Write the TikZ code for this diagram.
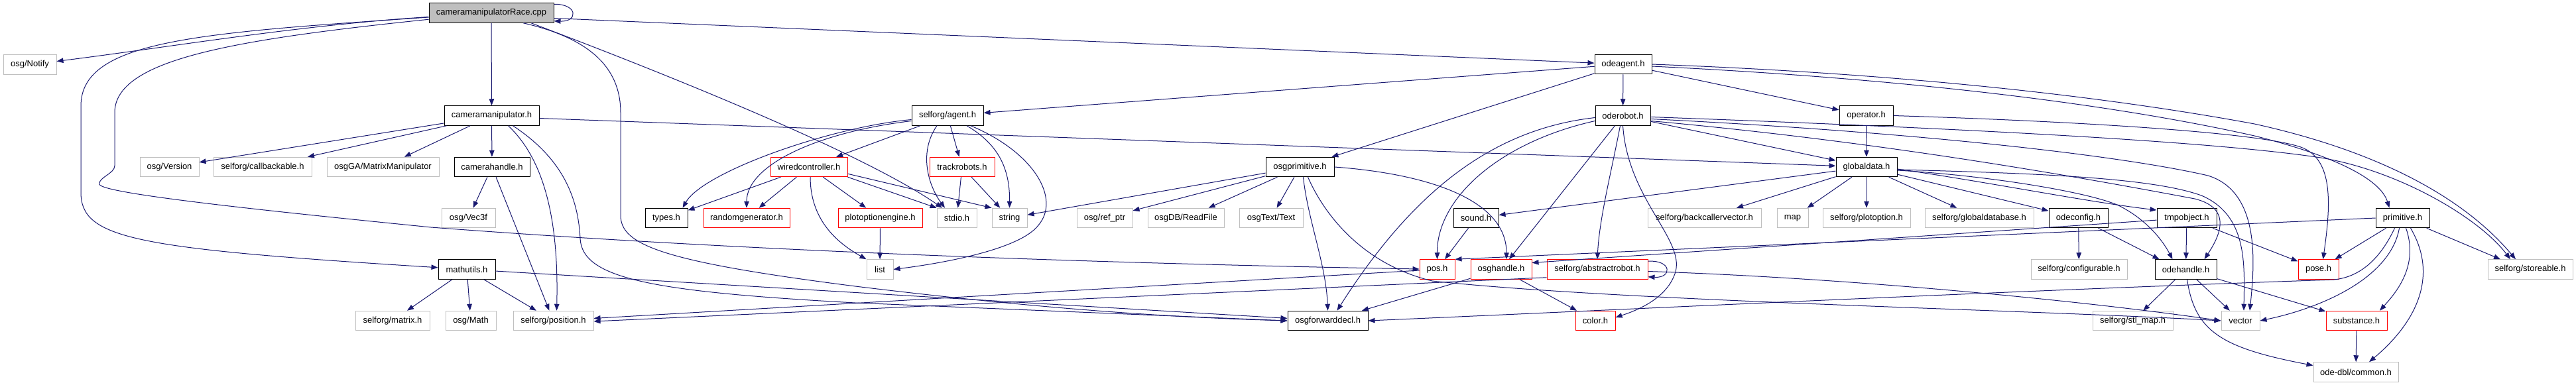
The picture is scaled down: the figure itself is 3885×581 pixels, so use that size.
\documentclass[tikz,border=0pt]{standalone}
\usepackage{fontspec}
\setmainfont{Liberation Sans}
\usetikzlibrary{arrows.meta}
\definecolor{edgec}{HTML}{191970}
\definecolor{grayb}{HTML}{BFBFBF}
\definecolor{redb}{HTML}{FF0000}
\begin{document}
\begin{tikzpicture}[x=1pt,y=-1pt,
  nbox/.style={draw,fill=white,line width=1pt,minimum height=29.5pt,inner sep=0pt,font=\fontsize{13}{15}\selectfont,text=black,anchor=center},
  doc/.style={nbox,draw=black},
  ext/.style={nbox,draw=grayb},
  trunc/.style={nbox,draw=redb},
  rootn/.style={nbox,draw=black,fill=grayb},
  conn/.style={draw=edgec,line width=1pt,-{Triangle[length=10pt,width=7.5pt]}},
]
\useasboundingbox (0,0) rectangle (3885,581);
\fill[white] (0,0) rectangle (3885,581);
% row 1
\node[rootn,minimum width=188pt] (root) at (741,19.5) {cameramanipulatorRace.cpp};
% row 2
\node[ext,minimum width=80pt] (notify) at (45,97.5) {osg/Notify};
\node[doc,minimum width=86pt] (odeagent) at (2448,97) {odeagent.h};
% row 3
\node[doc,minimum width=143pt] (camman) at (741.5,174.5) {cameramanipulator.h};
\node[doc,minimum width=108pt] (agent) at (1429,174.5) {selforg/agent.h};
\node[doc,minimum width=83pt] (oderobot) at (2447.5,174.5) {oderobot.h};
\node[doc,minimum width=81pt] (operator) at (2814.5,174.5) {operator.h};
% row 4
\node[ext,minimum width=89pt] (version) at (255.5,252) {osg/Version};
\node[ext,minimum width=148pt] (callbackable) at (396,252) {selforg/callbackable.h};
\node[ext,minimum width=169pt] (matrixmanip) at (577.5,252) {osgGA/MatrixManipulator};
\node[doc,minimum width=114pt] (camerahandle) at (742,252) {camerahandle.h};
\node[trunc,minimum width=116pt] (wired) at (1220,252) {wiredcontroller.h};
\node[trunc,minimum width=98pt] (trackrobots) at (1451,252) {trackrobots.h};
\node[doc,minimum width=103pt] (osgprimitive) at (1960.5,252) {osgprimitive.h};
\node[doc,minimum width=92pt] (globaldata) at (2815,252) {globaldata.h};
% row 5
\node[ext,minimum width=81pt] (vec3f) at (706.5,329) {osg/Vec3f};
\node[doc,minimum width=64pt] (types) at (1005,329) {types.h};
\node[trunc,minimum width=130pt] (randomgen) at (1126,329) {randomgenerator.h};
\node[trunc,minimum width=127pt] (plotoptionengine) at (1327.5,329) {plotoptionengine.h};
\node[ext,minimum width=60pt] (stdio) at (1443,329) {stdio.h};
\node[ext,minimum width=53pt] (string) at (1522.5,329) {string};
\node[ext,minimum width=84pt] (refptr) at (1666,329) {osg/ref\_ptr};
\node[ext,minimum width=115pt] (readfile) at (1788.5,329) {osgDB/ReadFile};
\node[ext,minimum width=96pt] (osgtext) at (1917,329) {osgText/Text};
\node[doc,minimum width=68pt] (sound) at (2226,329) {sound.h};
\node[ext,minimum width=171pt] (backcaller) at (2570.5,329) {selforg/backcallervector.h};
\node[ext,minimum width=47pt] (map) at (2703.5,329) {map};
\node[ext,minimum width=132pt] (plotoption) at (2815,329) {selforg/plotoption.h};
\node[ext,minimum width=164pt] (globaldatabase) at (2985,329) {selforg/globaldatabase.h};
\node[doc,minimum width=89pt] (odeconfig) at (3134.5,329) {odeconfig.h};
\node[doc,minimum width=90pt] (tmpobject) at (3298,329) {tmpobject.h};
\node[doc,minimum width=81pt] (primitive) at (3623.5,329) {primitive.h};
% row 6
\node[doc,minimum width=86pt] (mathutils) at (704,406.5) {mathutils.h};
\node[ext,minimum width=40pt] (list) at (1327,406.5) {list};
\node[trunc,minimum width=53pt] (pos) at (2167.5,406.5) {pos.h};
\node[trunc,minimum width=92pt] (osghandle) at (2264,406.5) {osghandle.h};
\node[trunc,minimum width=152pt] (abstractrobot) at (2409,406.5) {selforg/abstractrobot.h};
\node[ext,minimum width=145pt] (configurable) at (3135.5,406.5) {selforg/configurable.h};
\node[doc,minimum width=93pt] (odehandle) at (3296.5,406.5) {odehandle.h};
\node[trunc,minimum width=61pt] (pose) at (3496.5,406.5) {pose.h};
\node[ext,minimum width=128pt] (storeable) at (3816,406.5) {selforg/storeable.h};
% row 7
\node[ext,minimum width=112pt] (matrix) at (592,484) {selforg/matrix.h};
\node[ext,minimum width=76pt] (osgmath) at (710,484) {osg/Math};
\node[ext,minimum width=121pt] (position) at (834.5,484) {selforg/position.h};
\node[doc,minimum width=121pt] (osgfwd) at (2002.5,484) {osgforwarddecl.h};
\node[trunc,minimum width=60pt] (color) at (2406,484) {color.h};
\node[ext,minimum width=121pt] (stlmap) at (3216.5,484) {selforg/stl\_map.h};
\node[ext,minimum width=58pt] (vector) at (3379,484) {vector};
\node[trunc,minimum width=92pt] (substance) at (3554,484) {substance.h};
% row 8
\node[ext,minimum width=128pt] (common) at (3553,561.5) {ode-dbl/common.h};

% ---- edges: root
\draw[conn] ([yshift=-2pt]root.north east) .. controls (872,6) and (872,33) .. ([yshift=3pt]root.south east);
\draw[conn] (root) .. controls (450,38) and (250,72) .. (notify);
\draw[conn] (root) .. controls (300,50) and (122,60) .. (122,160) -- (122,290) .. controls (122,360) and (200,375) .. (mathutils);
\draw[conn] (root) .. controls (350,60) and (173,90) .. (173,170) -- (173,250) .. controls (173,262) and (148,268) .. (150,278) .. controls (152,292) and (400,318) .. (650,343) .. controls (1200,385) and (1800,400) .. (pos);
\draw[conn] (root) -- (camman);
\draw[conn] ([yshift=-8pt]root.east) -- (odeagent);
\draw[conn] ([xshift=48pt]root.south) .. controls (900,60) and (936,110) .. (936,170) -- (936,325) .. controls (936,370) and (1000,395) .. (1290,432) .. controls (1600,470) and (1800,480) .. (osgfwd.west);
\draw[conn] ([xshift=60pt]root.south) .. controls (1000,110) and (1300,230) .. (stdio);
% camman
\draw[conn] (camman) -- (version);
\draw[conn] (camman) -- (callbackable);
\draw[conn] (camman) -- (matrixmanip);
\draw[conn] (camman) -- (camerahandle);
\draw[conn] ([xshift=25pt]camman.south) .. controls (820,240) and (843,330) .. ([xshift=5pt]position.north);
\draw[conn] ([xshift=32pt]camman.south) .. controls (850,240) and (872,300) .. (875,360) .. controls (878,420) and (980,440) .. (1290,457) -- (osgfwd.west);
\draw[conn] ([yshift=-4pt]camman.east) -- (globaldata);
% camerahandle
\draw[conn] (camerahandle) -- (vec3f);
\draw[conn] (camerahandle) -- (position);
% mathutils
\draw[conn] (mathutils) -- (matrix);
\draw[conn] (mathutils) -- (osgmath);
\draw[conn] (mathutils) -- (position);
\draw[conn] (mathutils) -- (osgfwd);
% odeagent
\draw[conn] (odeagent) -- (agent);
\draw[conn] (odeagent) -- (oderobot);
\draw[conn] (odeagent) -- (operator);
\draw[conn] (odeagent) -- (osgprimitive);
\draw[conn] (odeagent.east) .. controls (2900,112) and (3200,150) .. (3400,187) .. controls (3550,220) and (3700,280) .. ([xshift=-22pt]storeable.north);
\draw[conn] ([yshift=-3pt]odeagent.east) .. controls (2900,120) and (3200,160) .. (3400,205) .. controls (3520,235) and (3590,270) .. ([xshift=-20pt]primitive.north);
% agent
\draw[conn] (agent) -- (wired);
\draw[conn] ([yshift=-6pt]agent.west) .. controls (1250,192) and (1060,260) .. ([xshift=-8pt]types.north east);
\draw[conn] ([yshift=-8pt]agent.west) .. controls (1230,200) and (1126,250) .. (randomgen.north);
\draw[conn] (agent) -- (trackrobots);
\draw[conn] ([xshift=-16pt]agent.south) .. controls (1385,230) and (1400,280) .. ([xshift=-18pt]stdio.north);
\draw[conn] ([xshift=29pt]agent.south) .. controls (1510,220) and (1523,260) .. (string.north);
\draw[conn] ([xshift=35pt]agent.south) .. controls (1560,230) and (1600,300) .. (1566,340) .. controls (1535,380) and (1400,400) .. (list.east);
% wiredcontroller
\draw[conn] (wired) -- (types);
\draw[conn] (wired) -- (randomgen);
\draw[conn] (wired) -- (plotoptionengine);
\draw[conn] ([xshift=2pt]wired.south) .. controls (1222,330) and (1260,365) .. (list.north west);
\draw[conn] (wired.south east) -- (stdio.north west);
\draw[conn] ([yshift=5pt]wired.south east) -- (string.north west);
% trackrobots, plotoptionengine
\draw[conn] (trackrobots) -- (stdio);
\draw[conn] (trackrobots) -- (string);
\draw[conn] (plotoptionengine) -- (list);
% osgprimitive
\draw[conn] (osgprimitive) -- (string);
\draw[conn] (osgprimitive) -- (refptr);
\draw[conn] (osgprimitive) -- (readfile);
\draw[conn] (osgprimitive) -- (osgtext);
\draw[conn] ([xshift=5pt]osgprimitive.south) .. controls (1972,330) and (2000,400) .. (osgfwd.north);
\draw[conn] ([xshift=12pt]osgprimitive.south) .. controls (2000,330) and (2060,400) .. (2160,424) .. controls (2450,455) and (3050,467) .. (vector.west);
\draw[conn] (osgprimitive.east) .. controls (2150,262) and (2272,300) .. ([xshift=8pt]osghandle.north);
% oderobot
\draw[conn] ([yshift=-3pt]oderobot.west) .. controls (2250,195) and (2130,290) .. ([xshift=14pt]osgfwd.north);
\draw[conn] ([yshift=-8pt]oderobot.west) .. controls (2260,215) and (2167,300) .. (pos.north);
\draw[conn] (oderobot) -- (osghandle);
\draw[conn] ([xshift=-4pt]oderobot.south) .. controls (2430,260) and (2412,330) .. (abstractrobot.north);
\draw[conn] (oderobot.south) .. controls (2455,300) and (2540,360) .. (2527,410) .. controls (2515,450) and (2470,468) .. ([yshift=5pt]color.east);
\draw[conn] (oderobot) -- (globaldata);
\draw[conn] ([yshift=-2pt]oderobot.east) .. controls (3000,195) and (3350,215) .. (3500,238) .. controls (3620,258) and (3740,330) .. ([xshift=-30pt]storeable.north);
\draw[conn] ([yshift=-5pt]oderobot.east) .. controls (2900,200) and (3200,235) .. (3330,265) .. controls (3410,290) and (3400,400) .. ([xshift=14pt]vector.north);
\draw[conn] ([yshift=-8pt]oderobot.east) .. controls (2850,215) and (3150,270) .. (3310,300) .. controls (3370,315) and (3345,360) .. ([xshift=28pt]odehandle.north);
% operator
\draw[conn] (operator) -- (globaldata);
\draw[conn] (operator.east) .. controls (3100,182) and (3400,198) .. (3470,222) .. controls (3520,240) and (3515,310) .. ([xshift=7pt]pose.north);
% globaldata
\draw[conn] (globaldata) -- (sound);
\draw[conn] (globaldata) -- (backcaller);
\draw[conn] (globaldata) -- (map);
\draw[conn] (globaldata) -- (plotoption);
\draw[conn] (globaldata) -- (globaldatabase);
\draw[conn] (globaldata) -- (odeconfig);
\draw[conn] ([yshift=-3pt]globaldata.east) .. controls (3000,275) and (3150,305) .. ([yshift=12pt]tmpobject.west);
\draw[conn] ([yshift=-5pt]globaldata.east) .. controls (3000,265) and (3150,290) .. (3195,310) .. controls (3235,330) and (3260,360) .. ([xshift=-20pt]odehandle.north);
\draw[conn] ([yshift=-4pt]globaldata.east) .. controls (3100,262) and (3250,270) .. (3320,295) .. controls (3390,325) and (3385,400) .. ([xshift=5pt]vector.north);
% tmpobject
\draw[conn] (tmpobject) -- (odehandle);
\draw[conn] (tmpobject) -- (pose);
\draw[conn] (tmpobject) -- ([yshift=10pt]osghandle.east);
% odeconfig
\draw[conn] (odeconfig) -- (configurable);
\draw[conn] (odeconfig) -- ([xshift=-40pt]odehandle.north);
% primitive
\draw[conn] (primitive.west) -- (pos.north east);
\draw[conn] (primitive) -- (pose);
\draw[conn] ([xshift=-12pt]primitive.south) .. controls (3590,390) and (3560,418) .. (3520,422) .. controls (3000,440) and (2500,465) .. (osgfwd.east);
\draw[conn] ([xshift=-5pt]primitive.south) .. controls (3605,420) and (3500,465) .. (vector.east);
\draw[conn] ([xshift=5pt]primitive.south) .. controls (3648,400) and (3615,440) .. ([xshift=35pt]substance.north);
\draw[conn] ([xshift=12pt]primitive.south) .. controls (3680,420) and (3640,490) .. ([xshift=20pt]common.north);
\draw[conn] (primitive) -- ([xshift=-45pt]storeable.north);
% odehandle
\draw[conn] (odehandle) -- (stlmap);
\draw[conn] (odehandle) -- (vector);
\draw[conn] (odehandle) -- (substance);
\draw[conn] ([xshift=2pt]odehandle.south) .. controls (3310,500) and (3350,525) .. ([yshift=10pt]common.west);
\draw[conn] (substance) -- (common);
% sound, osghandle, abstractrobot, pos
\draw[conn] (sound) -- (pos);
\draw[conn] (osghandle) -- (osgfwd);
\draw[conn] (osghandle) -- (color);
\draw[conn] ([yshift=-3pt]abstractrobot.north east) .. controls (2522,392) and (2522,420) .. ([yshift=4pt]abstractrobot.south east);
\draw[conn] ([yshift=3pt]abstractrobot.south west) -- ([yshift=-1pt]position.east);
\draw[conn] ([yshift=-3pt]abstractrobot.east) .. controls (2800,420) and (3150,455) .. (vector.west);
\draw[conn] (pos) -- (position);
\end{tikzpicture}
\end{document}
